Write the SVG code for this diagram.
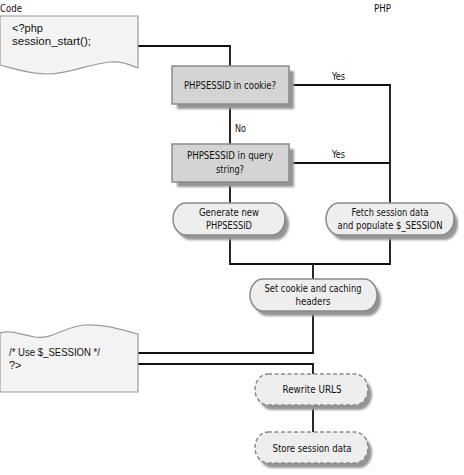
<svg xmlns="http://www.w3.org/2000/svg" width="464" height="475" viewBox="0 0 464 475">
<defs>
<filter id="sh" x="-10%" y="-20%" width="130%" height="150%"><feGaussianBlur stdDeviation="1.3"/></filter>
<style>
.lbl{font-family:"Liberation Sans Narrow","DejaVu Sans Condensed","Liberation Sans",sans-serif;font-size:11px;fill:#111}
.code{font-family:"Liberation Sans","Open Sans",sans-serif;font-size:11px;fill:#111}
.ctr{text-anchor:middle}
.dec{fill:#d4d4d4;stroke:#8a8a8a;stroke-width:1.5}
.pill{fill:#eeeeee;stroke:#8a8a8a;stroke-width:1.5}
.dash{fill:#eeeeee;stroke:#8a8a8a;stroke-width:1.5;stroke-dasharray:4 2.5}
.shadow{fill:#959595;filter:url(#sh)}
.doc{fill:#f3f3f3;stroke:#9a9a9a;stroke-width:1.2}
.wire{fill:none;stroke:#111;stroke-width:1.8}
</style>
</defs>
<rect width="464" height="475" fill="#ffffff"/>

<text class="lbl" x="0" y="12" textLength="22" lengthAdjust="spacingAndGlyphs">Code</text>
<text class="lbl" x="374" y="12" textLength="17" lengthAdjust="spacingAndGlyphs">PHP</text>

<g id="connectors">
<polyline class="wire" points="138,46 230,46 230,66"/>
<line class="wire" x1="230" y1="104" x2="230" y2="144"/>
<line class="wire" x1="230" y1="182" x2="230" y2="203"/>
<polyline class="wire" points="289,85 390,85 390,203"/>
<line class="wire" x1="289" y1="163" x2="390" y2="163"/>
<polyline class="wire" points="230,235 230,264 390,264 390,235"/>
<line class="wire" x1="313" y1="264" x2="313" y2="279"/>
<polyline class="wire" points="313,311 313,353 138,353"/>
<polyline class="wire" points="138,364 313,364 313,374"/>
<line class="wire" x1="313" y1="405" x2="313" y2="432"/>
<text class="lbl" x="332" y="80" textLength="13" lengthAdjust="spacingAndGlyphs">Yes</text>
<text class="lbl" x="332" y="158" textLength="13" lengthAdjust="spacingAndGlyphs">Yes</text>
<text class="lbl" x="235" y="132" textLength="11" lengthAdjust="spacingAndGlyphs">No</text>
</g>

<g id="code-start">
<path class="doc" d="M0,16 L138,16 L138,68 C128,64 120,61 110,62 C88,64 70,74 48,74 C30,74 15,69 0,65 Z"/>
<text class="code" x="12" y="32">&lt;?php</text>
<text class="code" x="12" y="45" textLength="79" lengthAdjust="spacingAndGlyphs">session_start();</text>
</g>

<g id="dec-cookie">
<rect class="shadow" x="177" y="71" width="117" height="38"/>
<rect class="dec" x="172" y="66" width="117" height="38"/>
<text class="lbl ctr" x="230" y="89" textLength="92" lengthAdjust="spacingAndGlyphs">PHPSESSID in cookie?</text>
</g>

<g id="dec-query">
<rect class="shadow" x="177" y="149" width="117" height="38"/>
<rect class="dec" x="172" y="144" width="117" height="38"/>
<text class="lbl ctr" x="230" y="159" textLength="86" lengthAdjust="spacingAndGlyphs">PHPSESSID in query</text>
<text class="lbl ctr" x="230" y="173" textLength="28" lengthAdjust="spacingAndGlyphs">string?</text>
</g>

<g id="generate">
<rect class="shadow" x="177" y="208" width="112" height="32" rx="13" ry="16"/>
<rect class="pill" x="173" y="203" width="112" height="32" rx="13" ry="16"/>
<text class="lbl ctr" x="229" y="216" textLength="60" lengthAdjust="spacingAndGlyphs">Generate new</text>
<text class="lbl ctr" x="229" y="229" textLength="46" lengthAdjust="spacingAndGlyphs">PHPSESSID</text>
</g>

<g id="fetch">
<rect class="shadow" x="330" y="208" width="128" height="32" rx="13" ry="16"/>
<rect class="pill" x="326" y="203" width="128" height="32" rx="13" ry="16"/>
<text class="lbl ctr" x="390" y="216" textLength="77" lengthAdjust="spacingAndGlyphs">Fetch session data</text>
<text class="lbl ctr" x="390" y="229" textLength="105" lengthAdjust="spacingAndGlyphs">and populate $_SESSION</text>
</g>

<g id="set-cookie">
<rect class="shadow" x="254" y="284" width="127" height="32" rx="13" ry="16"/>
<rect class="pill" x="250" y="279" width="127" height="32" rx="13" ry="16"/>
<text class="lbl ctr" x="313" y="292" textLength="97" lengthAdjust="spacingAndGlyphs">Set cookie and caching</text>
<text class="lbl ctr" x="313" y="305" textLength="35" lengthAdjust="spacingAndGlyphs">headers</text>
</g>

<g id="code-use">
<path class="doc" d="M0,333 C10,330 20,334 35,337 C52,340 65,326 85,325 C105,324 122,330 138,334 L138,392 L0,392 Z"/>
<text class="code" x="9" y="356" textLength="91" lengthAdjust="spacingAndGlyphs">/* Use $_SESSION */</text>
<text class="code" x="9" y="369">?&gt;</text>
</g>

<g id="rewrite">
<rect class="shadow" x="259" y="379" width="113" height="31" rx="13" ry="15.5"/>
<rect class="dash" x="255" y="374" width="113" height="31" rx="13" ry="15.5"/>
<text class="lbl ctr" x="312" y="393" textLength="59" lengthAdjust="spacingAndGlyphs">Rewrite URLS</text>
</g>

<g id="store">
<rect class="shadow" x="259" y="437" width="113" height="31" rx="13" ry="15.5"/>
<rect class="dash" x="255" y="432" width="113" height="31" rx="13" ry="15.5"/>
<text class="lbl ctr" x="312" y="452" textLength="79" lengthAdjust="spacingAndGlyphs">Store session data</text>
</g>
</svg>
